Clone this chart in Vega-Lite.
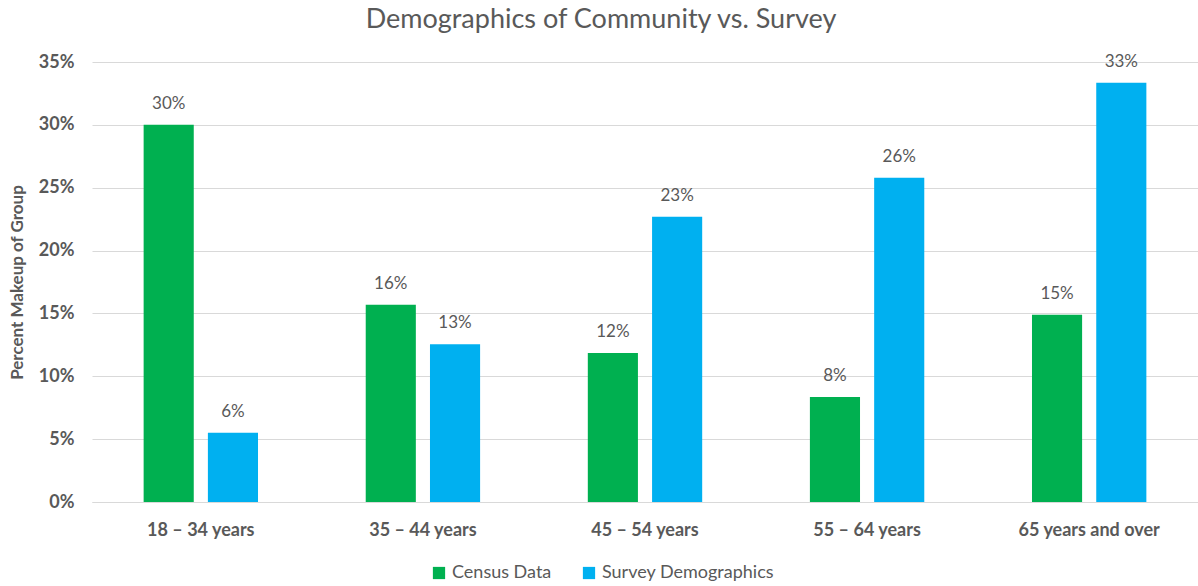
{
  "$schema": "https://vega.github.io/schema/vega-lite/v6.json",
  "autosize": "none",
  "width": 1106,
  "height": 440,
  "padding": {"left": 92, "top": 62, "right": 0, "bottom": 84},
  "background": "white",
  "title": {
    "text": "Demographics of Community vs. Survey",
    "font": "Lato",
    "fontSize": 27,
    "fontWeight": "normal",
    "color": "#595959",
    "anchor": "middle",
    "dx": -44,
    "offset": 19
  },
  "data": {
    "values": [
      {"age": "18 – 34 years", "series": "Census Data", "value": 0.300},
      {"age": "18 – 34 years", "series": "Survey Demographics", "value": 0.0551},
      {"age": "35 – 44 years", "series": "Census Data", "value": 0.157},
      {"age": "35 – 44 years", "series": "Survey Demographics", "value": 0.1255},
      {"age": "45 – 54 years", "series": "Census Data", "value": 0.1185},
      {"age": "45 – 54 years", "series": "Survey Demographics", "value": 0.227},
      {"age": "55 – 64 years", "series": "Census Data", "value": 0.0835},
      {"age": "55 – 64 years", "series": "Survey Demographics", "value": 0.258},
      {"age": "65 years and over", "series": "Census Data", "value": 0.149},
      {"age": "65 years and over", "series": "Survey Demographics", "value": 0.3335}
    ]
  },
  "encoding": {
    "x": {
      "field": "age",
      "type": "nominal",
      "sort": null,
      "scale": {"paddingInner": 0.485, "paddingOuter": 0.2325},
      "axis": {
        "title": null,
        "labelAngle": 0,
        "ticks": false,
        "domain": true,
        "domainColor": "#d9d9d9",
        "labelFont": "Lato",
        "labelFontSize": 18,
        "labelFontWeight": "bold",
        "labelColor": "#595959",
        "labelPadding": 19
      }
    },
    "xOffset": {
      "field": "series",
      "type": "nominal",
      "scale": {"paddingInner": 0.22}
    },
    "y": {
      "field": "value",
      "type": "quantitative",
      "scale": {"domain": [0, 0.35], "nice": false},
      "axis": {
        "title": "Percent Makeup of Group",
        "titleFont": "Lato",
        "titleFontSize": 17,
        "titleFontWeight": "bold",
        "titleColor": "#595959",
        "titlePadding": 12,
        "format": ".0%",
        "values": [0, 0.05, 0.1, 0.15, 0.2, 0.25, 0.3, 0.35],
        "domain": false,
        "ticks": false,
        "grid": true,
        "gridColor": "#d9d9d9",
        "labelFont": "Lato",
        "labelFontSize": 18,
        "labelFontWeight": "bold",
        "labelColor": "#595959",
        "labelPadding": 18
      }
    }
  },
  "layer": [
    {
      "mark": {"type": "bar"},
      "encoding": {
        "color": {
          "field": "series",
          "type": "nominal",
          "scale": {"domain": ["Census Data", "Survey Demographics"], "range": ["#00B050", "#00B0F0"]},
          "legend": {
            "title": null,
            "orient": "none",
            "direction": "horizontal",
            "legendX": 338,
            "legendY": 502,
            "symbolType": "square",
            "symbolSize": 150,
            "symbolStrokeWidth": 0,
            "labelFont": "Lato",
            "labelFontSize": 18,
            "labelColor": "#595959",
            "labelOffset": 4,
            "labelLimit": 400,
            "columnPadding": 28
          }
        }
      }
    },
    {
      "mark": {"type": "text", "baseline": "bottom", "dy": -12, "font": "Lato", "fontSize": 17, "color": "#595959"},
      "encoding": {
        "text": {"field": "value", "type": "quantitative", "format": ".0%"}
      }
    }
  ],
  "config": {"view": {"stroke": null}}
}
